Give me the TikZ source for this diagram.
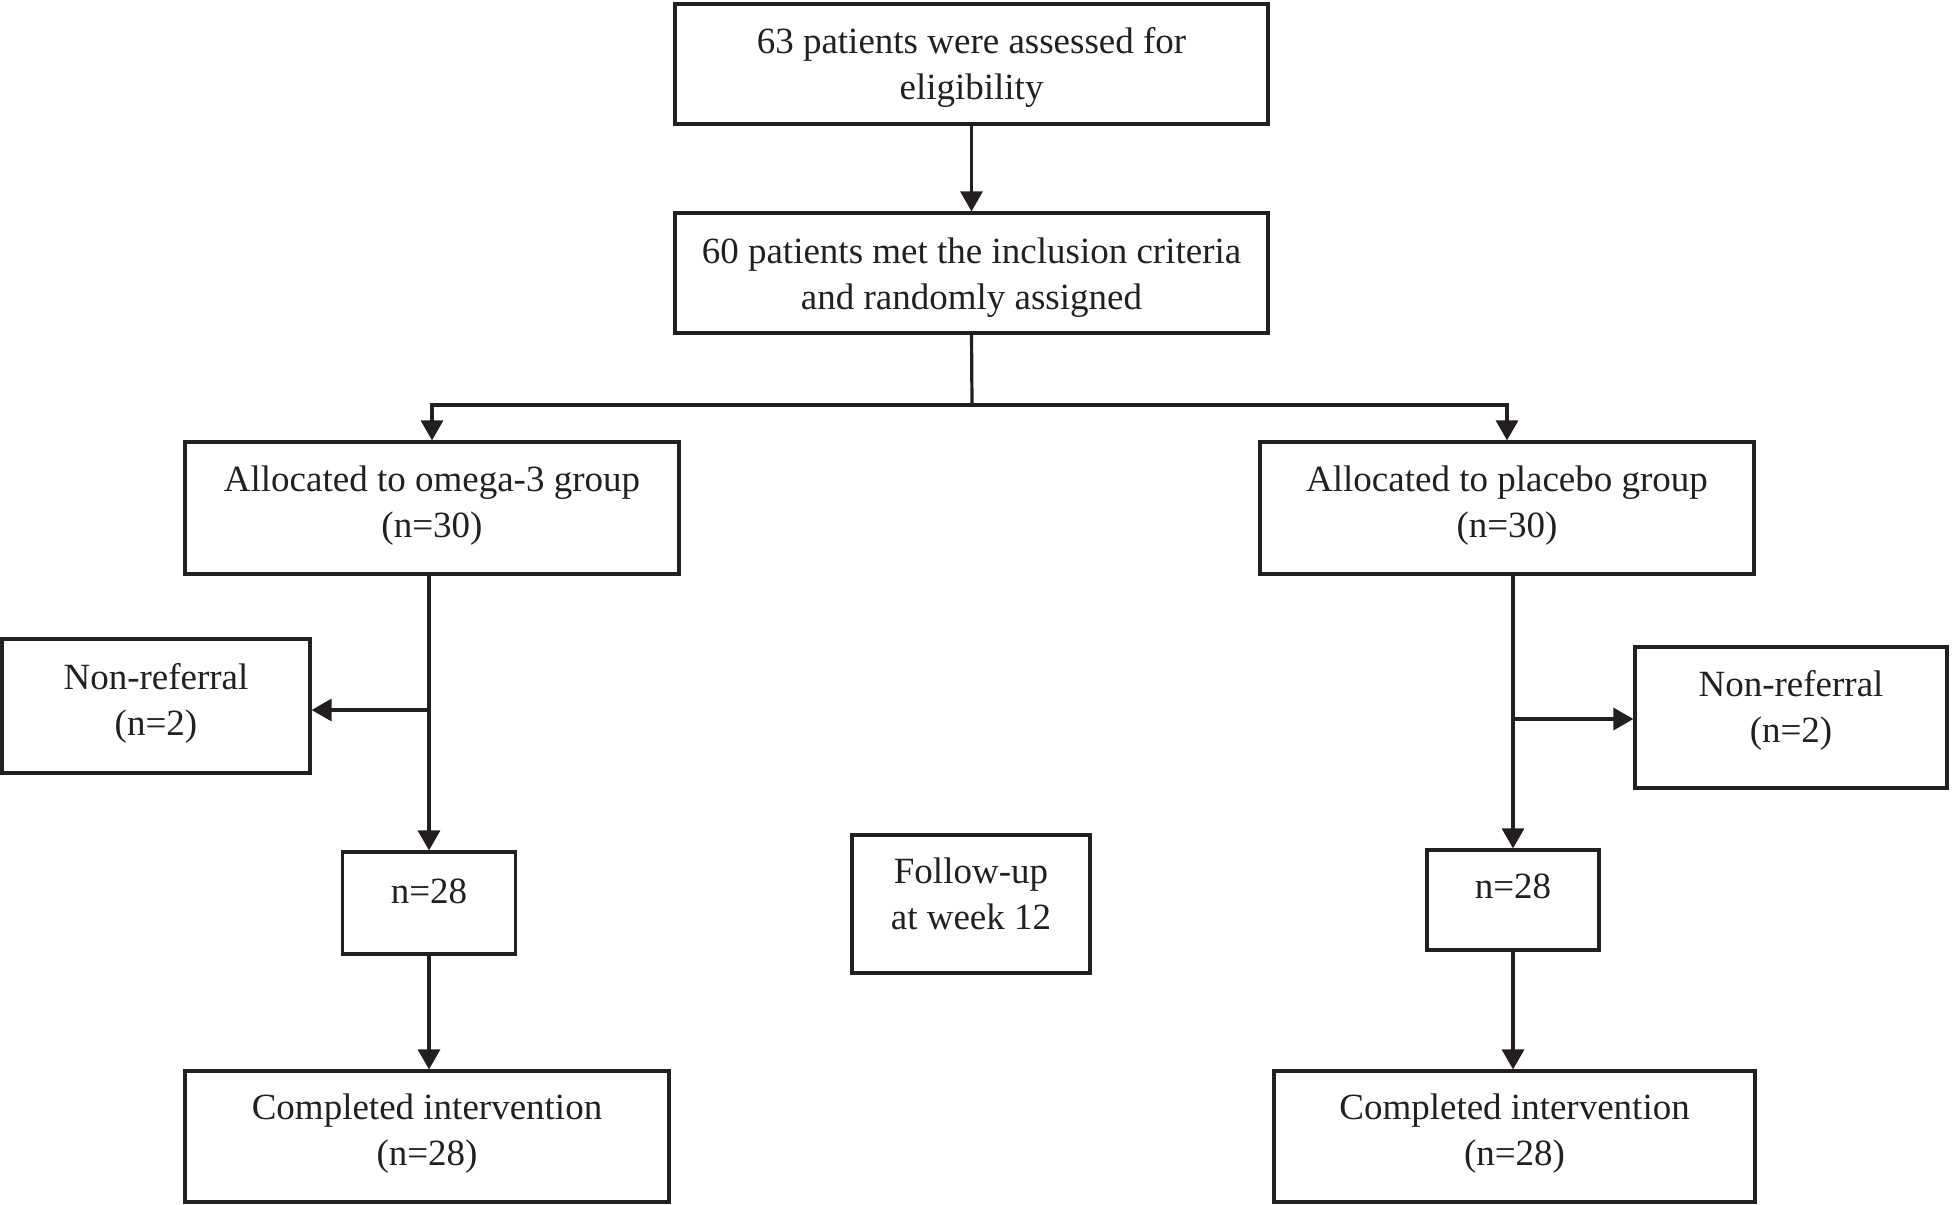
\documentclass[tikz,border=0pt]{standalone}
\usepackage{fontspec}
\setmainfont{Liberation Serif}
\usetikzlibrary{arrows.meta,calc}
\definecolor{ink}{RGB}{35,31,32}
\begin{document}
\begin{tikzpicture}[x=0.5pt,y=-0.5pt,
  box/.style={draw=ink,line width=1.6pt,rectangle,inner sep=0pt},
  txt/.style={text=ink,align=center,inner sep=0pt,font=\fontsize{18.5pt}{23pt}\selectfont},
  arr/.style={draw=ink,line width=1.6pt,-{Triangle[width=11pt,length=10pt]}},
  ln/.style={draw=ink,line width=1.6pt}]
\useasboundingbox (0,0) rectangle (1952,1204);
% boxes
\node[box,minimum width=296.5pt,minimum height=60pt] (b1) at (971.5,64) {};
\node[box,minimum width=296.5pt,minimum height=60pt] (b2) at (971.5,273) {};
\node[box,minimum width=247pt,minimum height=66pt] (b3L) at (432,508) {};
\node[box,minimum width=247pt,minimum height=66pt] (b3R) at (1507,508) {};
\node[box,minimum width=154pt,minimum height=67pt] (nrL) at (156,706) {};
\node[box,minimum width=156pt,minimum height=70.5pt] (nrR) at (1791,717.5) {};
\node[box,minimum width=86.5pt,minimum height=51pt] (n28L) at (429,903) {};
\node[box,minimum width=86pt,minimum height=50pt] (n28R) at (1513,900) {};
\node[box,minimum width=119pt,minimum height=69pt] (fu) at (971,904) {};
\node[box,minimum width=242pt,minimum height=65.5pt] (cL) at (427,1136.5) {};
\node[box,minimum width=240.5pt,minimum height=65.5pt] (cR) at (1514.5,1136.5) {};
% texts
\node[txt] (t1) at ([yshift=-1.5pt]b1.center) {63 patients were assessed for\\eligibility};
\node[txt] (t2) at ([yshift=-2.5pt]b2.center) {60 patients met the inclusion criteria\\and randomly assigned};
\node[txt] (t3L) at ([yshift=1pt]b3L.center) {Allocated to omega-3 group\\(n=30)};
\node[txt] (t3R) at ([yshift=1pt]b3R.center) {Allocated to placebo group\\(n=30)};
\node[txt] (tnrL) at ([yshift=1.5pt]nrL.center) {Non-referral\\(n=2)};
\node[txt] (tnrR) at ([yshift=3.5pt]nrR.center) {Non-referral\\(n=2)};
\node[txt] (tn28L) at ([yshift=6pt]n28L.center) {n=28};
\node[txt] (tn28R) at ([yshift=7pt]n28R.center) {n=28};
\node[txt] (tfu) at ([yshift=5pt]fu.center) {Follow-up\\at week 12};
\node[txt] (tcL) at ([yshift=1.5pt]cL.center) {Completed intervention\\(n=28)};
\node[txt] (tcR) at ([yshift=1.5pt]cR.center) {Completed intervention\\(n=28)};
% connectors
\draw[arr] (b1) -- (b2);
\coordinate (split) at (972,405);
\draw[ln] (b2.south) -- (split);
\draw[arr] (split) -| (b3L);
\draw[arr] (split) -| (b3R);
\draw[arr] (b3L.south -| n28L) -- (n28L);
\coordinate (brL) at (429,710);
\draw[arr] (brL) -- (brL -| nrL.east);
\draw[arr] (n28L.south) -- (n28L.south |- cL.north);
\draw[arr] (b3R.south -| n28R) -- (n28R);
\coordinate (brR) at (1513,719);
\draw[arr] (brR) -- (brR -| nrR.west);
\draw[arr] (n28R.south) -- (n28R.south |- cR.north);
\end{tikzpicture}
\end{document}
